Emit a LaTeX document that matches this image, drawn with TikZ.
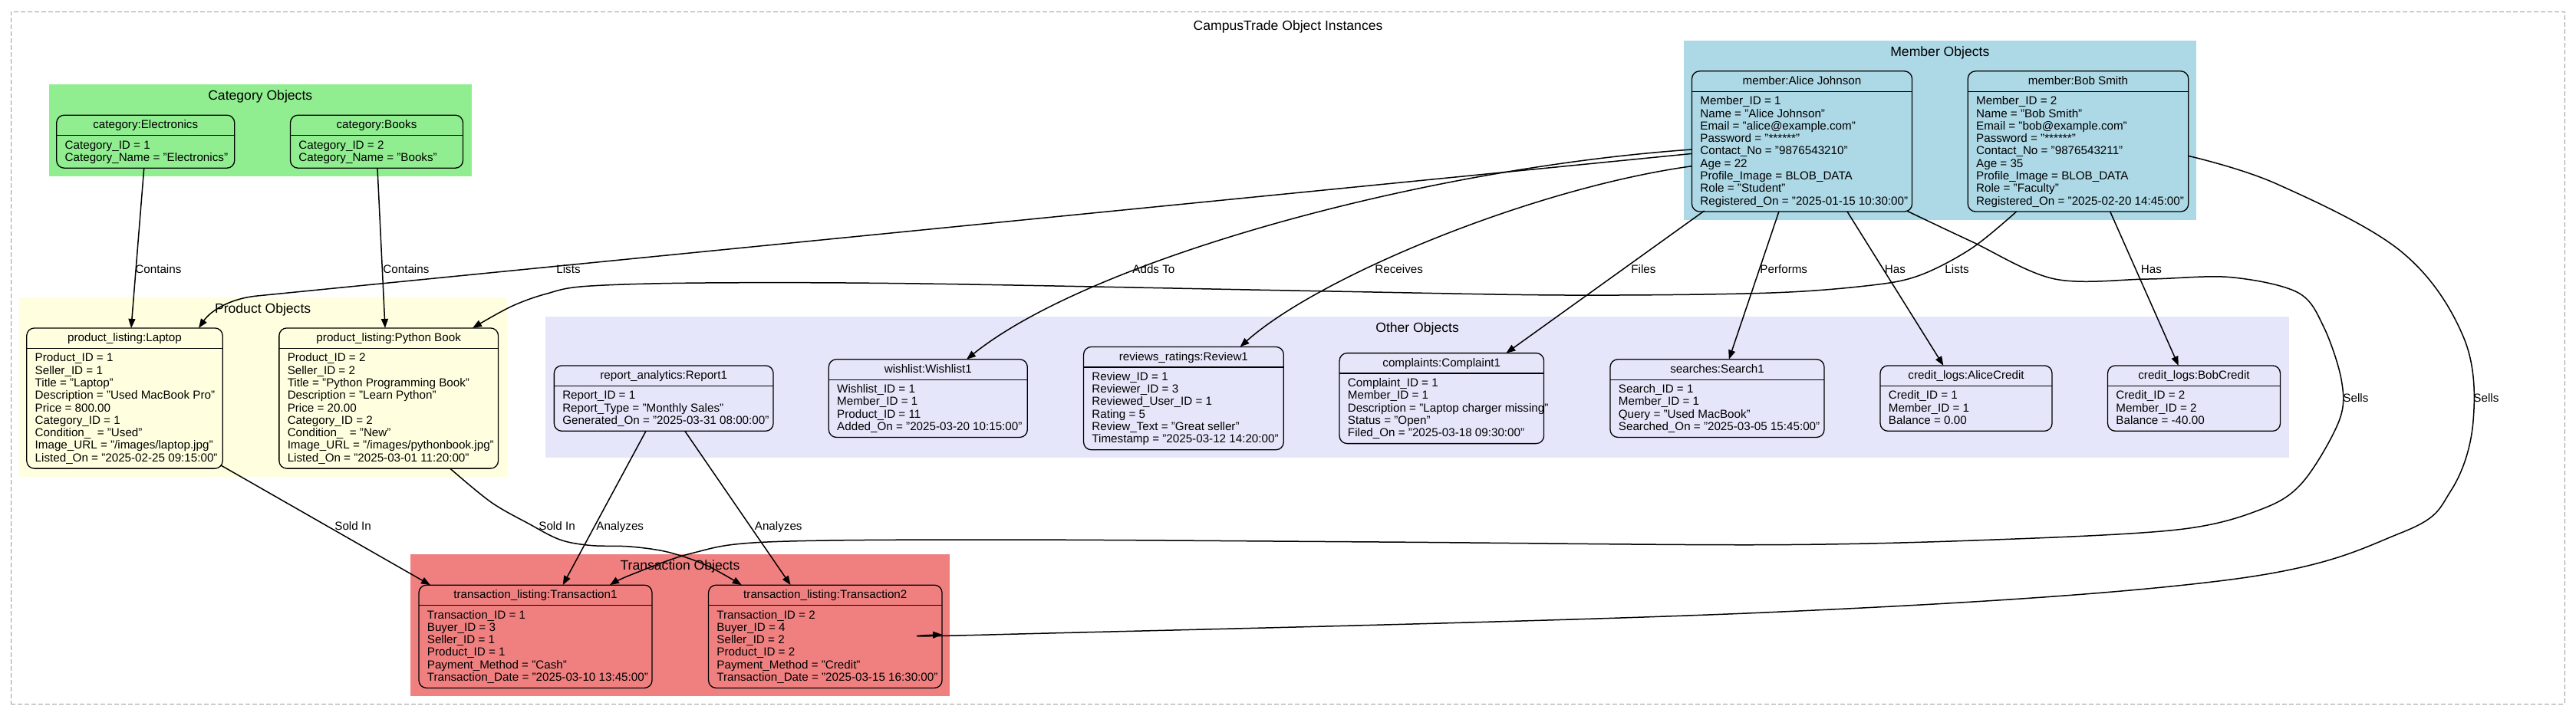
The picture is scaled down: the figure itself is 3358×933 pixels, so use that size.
\documentclass[tikz,border=0pt]{standalone}
\usepackage{fontspec}
\setmainfont{Liberation Sans}
\usetikzlibrary{arrows.meta,calc}
\definecolor{cgreen}{HTML}{90EE90}
\definecolor{cblue}{HTML}{ADD8E6}
\definecolor{cyellow}{HTML}{FFFFE0}
\definecolor{clav}{HTML}{E6E6FA}
\definecolor{cred}{HTML}{F08080}
\definecolor{cdash}{HTML}{9A9A9A}
% #1 name, #2 cx, #3 cy, #4 width(px), #5 number of body lines, #6 title, #7 body
\newcommand\objnode[7]{%
  \pgfmathsetmacro\objh{26.5+16.3*#5+10}%
  \node[obj, minimum width={#4*0.5pt}, minimum height={\objh*0.5pt}] (#1) at (#2,#3) {};
  \node[objtitle, anchor=base] (#1-t) at ($(#1.north)+(0,17.8)$) {#6};
  \draw[objline] ($(#1.north west)+(0,26.5)$) -- ($(#1.north east)+(0,26.5)$);
  \node[objbody, anchor=north west] (#1-b) at ($(#1.north west)+(10.5,31.5)$) {\rule{0pt}{6pt}#7};
}
% #1 name, #2 x1, #3 y1, #4 x2, #5 y2, #6 colour, #7 title
\newcommand\clusterbox[7]{%
  \node[clus, fill=#6, anchor=north west, minimum width={(#4-#2)*0.5pt}, minimum height={(#5-#3)*0.5pt}] (#1) at (#2,#3) {};
  \node[clustitle, anchor=base] (#1-t) at ($(#1.north)+(0,20.6)$) {#7};
}
\begin{document}
\begin{tikzpicture}[x=0.5pt,y=-0.5pt,
  clus/.style={draw=none, inner sep=0, outer sep=0, rectangle},
  clustitle/.style={font=\fontsize{8.8}{10}\selectfont, inner sep=0},
  obj/.style={draw, line width=0.65pt, rounded corners=5pt, inner sep=0, outer sep=0, rectangle},
  objtitle/.style={font=\fontsize{7.6}{9}\selectfont, inner sep=0},
  objbody/.style={font=\fontsize{7.6}{8.15}\selectfont, inner sep=0, align=left},
  objline/.style={line width=0.65pt},
  rel/.style={draw, line width=0.75pt, -{Triangle[length=6pt,width=4.5pt]}},
  elab/.style={font=\fontsize{7.6}{9}\selectfont, inner sep=0, anchor=base west},
  outerbox/.style={draw=cdash, line width=0.5pt, dash pattern=on 3pt off 1.5pt, inner sep=0, outer sep=0, rectangle},
]
\useasboundingbox (0,0) rectangle (3358,933);
\fill[white] (0,0) rectangle (3358,933);

% outer frame and title
\node[outerbox, anchor=north west, minimum width={(3343-14)*0.5pt}, minimum height={(918-15)*0.5pt}] (outer) at (14,15) {};
\node[clustitle, anchor=base] (maintitle) at (1679,39.5) {CampusTrade Object Instances};

% clusters
\clusterbox{catc}{63.8}{110}{614.7}{230}{cgreen}{Category Objects}
\clusterbox{memc}{2194.7}{53.3}{2863}{286.7}{cblue}{Member Objects}
\clusterbox{prodc}{24.6}{388.3}{660.7}{621.7}{cyellow}{Product Objects}
\clusterbox{othc}{711.2}{412.7}{2984}{597.3}{clav}{Other Objects}
\clusterbox{trc}{534.7}{723.3}{1238.3}{908.3}{cred}{Transaction Objects}

% objects
\objnode{elec}{189.75}{184.7}{232}{2}{category:Electronics}{Category\_ID = 1\\Category\_Name = "Electronics"}
\objnode{books}{491}{184.7}{225}{2}{category:Books}{Category\_ID = 2\\Category\_Name = "Books"}
\objnode{alice}{2349}{184.4}{287}{9}{member:Alice Johnson}{Member\_ID = 1\\Name = "Alice Johnson"\\Email = "alice@example.com"\\Password = "******"\\Contact\_No = "9876543210"\\Age = 22\\Profile\_Image = BLOB\_DATA\\Role = "Student"\\Registered\_On = "2025-01-15 10:30:00"}
\objnode{bob}{2709}{184.4}{287.5}{9}{member:Bob Smith}{Member\_ID = 2\\Name = "Bob Smith"\\Email = "bob@example.com"\\Password = "******"\\Contact\_No = "9876543211"\\Age = 35\\Profile\_Image = BLOB\_DATA\\Role = "Faculty"\\Registered\_On = "2025-02-20 14:45:00"}
\objnode{lap}{162.5}{519.5}{255.4}{9}{product\_listing:Laptop}{Product\_ID = 1\\Seller\_ID = 1\\Title = "Laptop"\\Description = "Used MacBook Pro"\\Price = 800.00\\Category\_ID = 1\\Condition\_\ \ = "Used"\\Image\_URL = "/images/laptop.jpg"\\Listed\_On = "2025-02-25 09:15:00"}
\objnode{py}{506.7}{519.5}{285.7}{9}{product\_listing:Python Book}{Product\_ID = 2\\Seller\_ID = 2\\Title = "Python Programming Book"\\Description = "Learn Python"\\Price = 20.00\\Category\_ID = 2\\Condition\_\ \ = "New"\\Image\_URL = "/images/pythonbook.jpg"\\Listed\_On = "2025-03-01 11:20:00"}
\objnode{rep}{865.2}{519.6}{285.7}{3}{report\_analytics:Report1}{Report\_ID = 1\\Report\_Type = "Monthly Sales"\\Generated\_On = "2025-03-31 08:00:00"}
\objnode{wish}{1209.8}{519.6}{259}{4}{wishlist:Wishlist1}{Wishlist\_ID = 1\\Member\_ID = 1\\Product\_ID = 11\\Added\_On = "2025-03-20 10:15:00"}
\objnode{rev}{1542.9}{519.6}{260.7}{6}{reviews\_ratings:Review1}{Review\_ID = 1\\Reviewer\_ID = 3\\Reviewed\_User\_ID = 1\\Rating = 5\\Review\_Text = "Great seller"\\Timestamp = "2025-03-12 14:20:00"}
\objnode{comp}{1879.3}{519.6}{266.5}{5}{complaints:Complaint1}{Complaint\_ID = 1\\Member\_ID = 1\\Description = "Laptop charger missing"\\Status = "Open"\\Filed\_On = "2025-03-18 09:30:00"}
\objnode{srch}{2238.5}{519.6}{279}{4}{searches:Search1}{Search\_ID = 1\\Member\_ID = 1\\Query = "Used MacBook"\\Searched\_On = "2025-03-05 15:45:00"}
\objnode{acred}{2563}{519.6}{224}{3}{credit\_logs:AliceCredit}{Credit\_ID = 1\\Member\_ID = 1\\Balance = 0.00}
\objnode{bcred}{2860}{519.6}{225}{3}{credit\_logs:BobCredit}{Credit\_ID = 2\\Member\_ID = 2\\Balance = -40.00}
\objnode{t1}{698}{830.3}{304}{6}{transaction\_listing:Transaction1}{Transaction\_ID = 1\\Buyer\_ID = 3\\Seller\_ID = 1\\Product\_ID = 1\\Payment\_Method = "Cash"\\Transaction\_Date = "2025-03-10 13:45:00"}
\objnode{t2}{1075.8}{830.3}{304.5}{6}{transaction\_listing:Transaction2}{Transaction\_ID = 2\\Buyer\_ID = 4\\Seller\_ID = 2\\Product\_ID = 2\\Payment\_Method = "Credit"\\Transaction\_Date = "2025-03-15 16:30:00"}

% connectors
\draw[rel] ($(elec.south)+(-2,0)$) -- ($(lap.north)+(8.5,0)$);
\draw[rel] ($(books.south)+(1,0)$) -- ($(py.north)+(-4.7,0)$);
\draw[rel] ($(alice.west)+(0,16)$) -- (335,386) .. controls (300,389.5) and (275,405) .. ($(lap.north)+(96.5,0)$);
\draw[rel] ($(alice.west)+(0,10.6)$) .. controls (1850,220) and (1420,340) .. ($(wish.north)+(50.2,0)$);
\draw[rel] ($(alice.west)+(0,32.3)$) .. controls (2000,245) and (1720,360) .. ($(rev.north)+(73.6,0)$);
\draw[rel] ($(alice.south)+(-127.3,-1)$) -- ($(comp.north)+(84.1,0)$);
\draw[rel] ($(alice.south)+(-30.1,0)$) -- ($(srch.north)+(15.3,0)$);
\draw[rel] ($(alice.south)+(59,0)$) -- ($(acred.north)+(-29.6,0)$);
\draw[rel] plot[smooth, tension=0.55] coordinates {($(alice.south)+(136.5,-1)$) (2570,315) (2677.8,363.8) (2800,364) (2907,361.6) (2995,381.4) (3028.7,425.6) (3052.3,496.4) (3049,549.4) (3001.7,629) (2947.7,664.3) (2839.8,690.8) (2600,704) (2300,710.7) (1800,707) (1300,704) (1000,707) (901.8,721.7) (822,750) ($(t1.north)+(97,0)$)};
\draw[rel] plot[smooth, tension=0.55] coordinates {($(bob.south)+(-80.4,0)$) (2570,324) (2502,359.3) (2435,372.6) (2300,382.3) (2042,385) (1736,380) (1200,370) (918,369) (765,373.3) (712,383.3) (666,400) ($(py.north)+(109.3,0)$)};
\draw[rel] ($(bob.south)+(41.7,0)$) -- ($(bcred.north)+(-20.2,0)$);
\draw[rel] plot[smooth, tension=0.6] coordinates {($(bob.east)+(0,19)$) (2968,240) (3130,328) (3211,439) (3224,549) (3195,640) (3130,695) (2900,757) (2300,799) (1300,827.7) ($(t2.east)+(0,-2.6)$)};
\draw[rel] ($(lap.south east)+(-2,-4)$) -- ($(t1.north west)+(15,0)$);
\draw[rel] plot[smooth, tension=0.55] coordinates {($(py.south)+(80,0)$) (640,655) (689,683) (730,704) (770,711.5) (821,713) (870,720) (920,737) ($(t2.north)+(-109,0)$)};
\draw[rel] ($(rep.south)+(-23.2,0)$) -- ($(t1.north)+(35.7,0)$);
\draw[rel] ($(rep.south)+(27.6,0)$) -- ($(t2.north)+(-45.2,0)$);

% connector labels
\node[elab] (l1) at (176,356) {Contains};
\node[elab] (l2) at (499,356) {Contains};
\node[elab] (l3) at (725,356) {Lists};
\node[elab] (l4) at (1476,356) {Adds To};
\node[elab] (l5) at (1792,356) {Receives};
\node[elab] (l6) at (2126,356) {Files};
\node[elab] (l7) at (2294,356) {Performs};
\node[elab] (l8) at (2456.5,356) {Has};
\node[elab] (l9) at (2535,356) {Lists};
\node[elab] (l10) at (2790.5,356) {Has};
\node[elab] (l11) at (3054,524) {Sells};
\node[elab] (l12) at (3224,524) {Sells};
\node[elab] (l13) at (436,691.5) {Sold In};
\node[elab] (l14) at (702,691.5) {Sold In};
\node[elab] (l15) at (777,691.5) {Analyzes};
\node[elab] (l16) at (983.5,691.5) {Analyzes};
\end{tikzpicture}
\end{document}
